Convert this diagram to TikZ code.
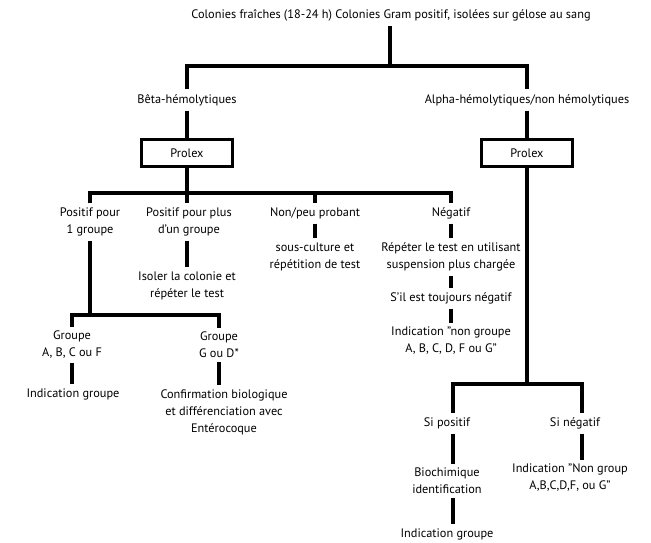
\documentclass[tikz,border=0pt]{standalone}
\usepackage{fontspec}
\setmainfont{PT Sans}
\begin{document}
\begin{tikzpicture}[x=1pt, y=-1pt,
		txt/.style={font=\fontsize{12.3pt}{17pt}\selectfont, align=center, inner sep=0pt, outer ysep=4.5pt},
		txtone/.style={txt, text height=9pt, text depth=3pt},
		prolexbox/.style={draw, line width=3.2pt, minimum width=91pt, minimum height=27pt, inner sep=0pt, font=\fontsize{12.3pt}{14pt}\selectfont},
		link/.style={line width=3.2pt}]
		\useasboundingbox (0, 0) rectangle (651, 543);

		\node [txtone]	(title) at (391, 16) {Colonies fraîches (18-24 h) Colonies Gram positif, isolées sur gélose au sang};
		\node [txtone]	(beta) at (187, 100) {Bêta-hémolytiques};
		\node [txtone]	(alpha) at (527, 100) {Alpha-hémolytiques/non hémolytiques};
		\node [prolexbox]	(prolexB) at (187, 153) {Prolex};
		\node [prolexbox]	(prolexA) at (527, 153) {Prolex};

		\node [txt]	(pos1) at (90, 222) {Positif pour\\1 groupe};
		\node [txt]	(pos2) at (189, 222) {Positif pour plus\\d’un groupe};
		\node [txtone]	(nonpeu) at (315, 213) {Non/peu probant};
		\node [txtone]	(neg) at (451, 213) {Négatif};

		\node [txt]	(isoler) at (187, 286) {Isoler la colonie et\\répéter le test};
		\node [txt]	(souscult) at (315, 257) {sous-culture et\\répétition de test};
		\node [txt]	(repeter) at (451, 257) {Répéter le test en utilisant\\suspension plus chargée};
		\node [txtone]	(toujours) at (451, 298) {S’il est toujours négatif};
		\node [txt]	(indicNon) at (451, 341) {Indication "non groupe\\A, B, C, D, F ou G"};

		\node [txt]	(grpA) at (72, 345) {Groupe\\A, B, C ou F};
		\node [txt]	(grpG) at (219, 345) {Groupe\\G ou D*};
		\node [txtone]	(indicGrp) at (73, 394) {Indication groupe};
		\node [txt]	(confirm) at (224, 412) {Confirmation biologique\\et différenciation avec\\Entérocoque};

		\node [txtone]	(siPos) at (447, 423) {Si positif};
		\node [txtone]	(siNeg) at (575, 423) {Si négatif};
		\node [txt]	(biochim) at (447, 481) {Biochimique\\identification};
		\node [txtone]	(indicGrp2) at (447, 534) {Indication groupe};
		\node [txt]	(indicNG) at (570, 478) {Indication "Non group\\A,B,C,D,F, ou G"};

		\coordinate (jTop) at (390, 66);
		\coordinate (jB) at (187, 193);
		\coordinate (jPos) at (90, 315);
		\coordinate (jA) at (527, 384);

		\draw [link]	(jTop |- title.south) to (jTop);
		\draw [link]	(beta.north) |- (jTop) -| (alpha.north);
		\draw [link]	(beta.south) to (prolexB.north);
		\draw [link]	(alpha.south) to (prolexA.north);

		\draw [link]	(prolexB.south) to (jB);
		\draw [link]	(pos1.north) |- (jB) -| (neg.north);
		\draw [link]	(jB) to (jB |- pos2.north);
		\draw [link]	(nonpeu.north) to (nonpeu.north |- jB);

		\draw [link]	(pos1.south) to (jPos);
		\draw [link]	(grpA.north) |- (jPos) -| (grpG.north);
		\draw [link]	(jB |- pos2.south) to (jB |- isoler.north);
		\draw [link]	(nonpeu.south) to (souscult.north);
		\draw [link]	(neg.south) to (repeter.north);
		\draw [link]	(repeter.south) to (toujours.north);
		\draw [link]	(toujours.south) to (indicNon.north);
		\draw [link]	(grpA.south) to (grpA.south |- indicGrp.north);
		\draw [link]	(grpG.south) to (grpG.south |- confirm.north);

		\draw [link]	(prolexA.south) to (jA);
		\draw [link]	([xshift=6pt]siPos.north) |- (jA) -| ([xshift=7pt]siNeg.north);
		\draw [link]	([xshift=6pt]siPos.south) to ([xshift=6pt]biochim.north);
		\draw [link]	([xshift=6pt]biochim.south) to ([xshift=6pt]indicGrp2.north);
		\draw [link]	([xshift=7pt]siNeg.south) to ([xshift=7pt]siNeg.south |- indicNG.north);
\end{tikzpicture}
\end{document}
